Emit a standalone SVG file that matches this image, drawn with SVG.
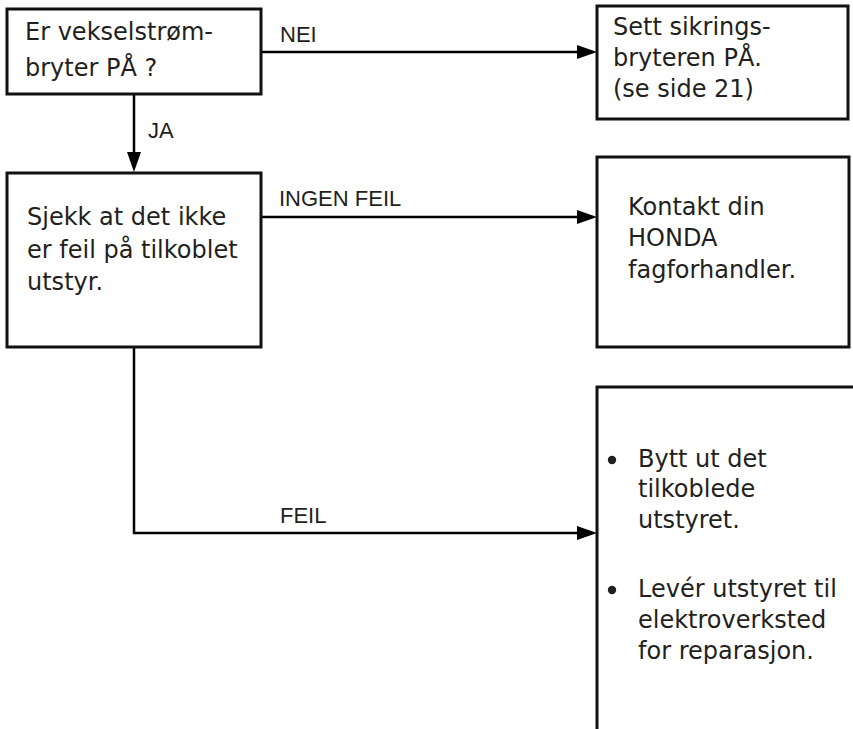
<svg xmlns="http://www.w3.org/2000/svg" width="853" height="729" viewBox="0 0 853 729">
<style>
.box{fill:#fff;stroke:#111;stroke-width:3}
.t{font-family:"DejaVu Sans",Verdana,sans-serif;font-size:24px;fill:#231f20}
.l{font-family:"Liberation Sans",Arial,sans-serif;font-size:22px;fill:#231f20}
.c{fill:none;stroke:#000;stroke-width:2.5}
.ah{fill:#000}
</style>
<rect width="853" height="729" fill="#fff"/>
<g id="connectors">
<line class="c" x1="134" y1="94" x2="134" y2="156"/>
<path class="ah" d="M127,152 L141,152 L134,172 z"/>
<line class="c" x1="261" y1="52" x2="580" y2="52"/>
<path class="ah" d="M577,45 L597,52 L577,59 z"/>
<line class="c" x1="261" y1="217" x2="580" y2="217"/>
<path class="ah" d="M577,210 L597,217 L577,224 z"/>
<polyline class="c" points="134,347 134,533 580,533"/>
<path class="ah" d="M577,526 L597,533 L577,540 z"/>
<text class="l" x="280" y="42">NEI</text>
<text class="l" x="148" y="138">JA</text>
<text class="l" x="279" y="206">INGEN FEIL</text>
<text class="l" x="280" y="523">FEIL</text>
</g>
<g id="q1">
<rect class="box" x="7" y="9" width="254" height="85"/>
<text class="t" x="25" y="40">Er vekselstrøm-</text>
<text class="t" x="25" y="76">bryter PÅ ?</text>
</g>
<g id="a1">
<rect class="box" x="597" y="6" width="251" height="113"/>
<text class="t" x="613" y="35">Sett sikrings-</text>
<text class="t" x="613" y="66">bryteren PÅ.</text>
<text class="t" x="613" y="97">(se side 21)</text>
</g>
<g id="q2">
<rect class="box" x="7" y="173" width="254" height="174"/>
<text class="t" x="27" y="225">Sjekk at det ikke</text>
<text class="t" x="27" y="258">er feil på tilkoblet</text>
<text class="t" x="27" y="290">utstyr.</text>
</g>
<g id="a2">
<rect class="box" x="597" y="157" width="252" height="190"/>
<text class="t" x="628" y="215">Kontakt din</text>
<text class="t" x="628" y="246">HONDA</text>
<text class="t" x="628" y="278">fagforhandler.</text>
</g>
<g id="a3">
<polyline points="597,729 597,387 853,387" fill="none" stroke="#111" stroke-width="3"/>
<circle cx="612" cy="460" r="4.2" fill="#231f20"/>
<text class="t" x="638" y="467">Bytt ut det</text>
<text class="t" x="638" y="497">tilkoblede</text>
<text class="t" x="638" y="528">utstyret.</text>
<circle cx="612" cy="590" r="4.2" fill="#231f20"/>
<text class="t" x="638" y="597">Levér utstyret til</text>
<text class="t" x="638" y="628">elektroverksted</text>
<text class="t" x="638" y="659">for reparasjon.</text>
</g>
</svg>
